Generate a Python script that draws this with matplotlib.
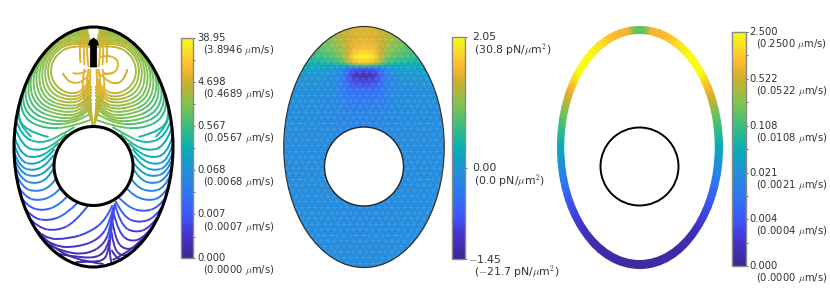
import numpy as np
import matplotlib
matplotlib.use('Agg')
import matplotlib.pyplot as plt
import matplotlib.collections as mcoll
import matplotlib.tri as mtri
from matplotlib.cm import ScalarMappable
from matplotlib.colors import LinearSegmentedColormap, LogNorm, FuncNorm
from matplotlib.patches import Ellipse, Circle, Polygon
from matplotlib.path import Path

plt.rcParams['font.family'] = 'DejaVu Sans'
plt.rcParams['mathtext.fontset'] = 'cm'

# colormap anchors
cmap_pos = [0.0, 0.1, 0.2, 0.3, 0.4, 0.5, 0.6, 0.7, 0.8, 0.87, 0.94, 1.0]
cmap_rgb = [(60, 40, 150), (68, 50, 200), (60, 90, 250), (45, 120, 240), (30, 145, 215),
            (5, 175, 180), (60, 190, 125), (130, 195, 80), (205, 175, 45), (254, 185, 50),
            (250, 220, 40), (249, 251, 20)]
parula = LinearSegmentedColormap.from_list(
    'parula_like', [(p, tuple(c / 255 for c in rgb)) for p, rgb in zip(cmap_pos, cmap_rgb)])

# --- panel 1: flow speed
flow_ticks = [0.001, 0.0081, 0.068, 0.567, 4.698, 38.95]
flow_top = ['0.000', '0.007', '0.068', '0.567', '4.698', '38.95']
flow_bot = ['(0.0000 $\\mu$m/s)', '(0.0007 $\\mu$m/s)', '(0.0068 $\\mu$m/s)',
            '(0.0567 $\\mu$m/s)', '(0.4689 $\\mu$m/s)', '(3.8946 $\\mu$m/s)']

speed_dist = [0, 25, 40, 55, 75, 100, 125, 150, 170, 185, 200]
speed_val = [7.9, 5.8, 2.8, 1.6, 0.57, 0.197, 0.055, 0.0083, 0.0035, 0.0021, 0.0012]
swimmer_xy = (0, 78)

# streamlines, pixels from the cell centre, y up
lobe_lines = [
    [(-3, 100), (-22, 102), (-38, 92), (-44, 76), (-38, 60), (-22, 52), (-8, 58), (-3, 70)],
    [(-3, 102), (-24, 105), (-41, 93), (-47, 76), (-41, 57), (-23, 49), (-8, 54), (-3, 67)],
    [(-3, 104), (-25, 107), (-43, 94), (-50, 75), (-44, 54), (-24, 46), (-8, 51), (-3, 64)],
    [(-3, 106), (-26, 109), (-45, 95), (-53, 74), (-47, 51), (-25, 43), (-8, 48), (-2, 61)],
    [(-3, 108), (-27, 111), (-47, 94), (-56, 73), (-50, 48), (-26, 40), (-8, 44), (-2, 58)],
    [(-4, 110), (-28, 113), (-49, 94), (-59, 72), (-53, 46), (-28, 37), (-9, 41), (-2, 55)],
    [(-4, 112), (-29, 114), (-50, 93), (-62, 70), (-56, 43), (-30, 34), (-10, 37), (-2, 52)],
    [(-5, 114), (-30, 115), (-52, 92), (-65, 68), (-59, 41), (-32, 31), (-11, 33), (-2, 48)],
    [(-6, 115), (-31, 115), (-53, 91), (-67, 65), (-62, 38), (-35, 28), (-12, 30), (-2, 44)],
    [(-7, 117), (-32, 115), (-55, 90), (-70, 62), (-65, 35), (-39, 25), (-14, 27), (-2, 40)],
    [(-9, 118), (-33, 115), (-57, 88), (-72, 58), (-68, 32), (-44, 22), (-18, 24), (-2, 34)],
    [(-11, 119), (-34, 114), (-58, 87), (-74, 52), (-70, 28), (-48, 18), (-22, 20), (-3, 27)],
    [(-13, 119), (-35, 113), (-60, 84), (-76, 45), (-75, 22), (-62, 10)],
    [(-15, 119), (-37, 112), (-62, 82), (-77, 38), (-70, 16), (-45, 10)],
]
axis_lines = [
    [(-5, 78), (-8, 60), (-5, 42), (-1, 24)],
    [(-9, 78), (-12, 62), (-8, 44), (-2, 26)],
    [(-3, 78), (-4, 60), (-3, 42), (-1, 22)],
    [(-5, 80), (-7, 95), (-6, 110), (-6, 118)],
    [(-9, 82), (-10, 95), (-9, 108), (-9, 118)],
    [(-13, 84), (-14, 95), (-13, 106), (-12, 118)],
]
side_lines = [
    [(-78, 28), (-72, 10), (-52, 3), (-32, 12), (-19, 20)],
    [(-78, 18), (-71, 0), (-54, -4), (-38, 3), (-27, 13)],
    [(-79, 10), (-73, -8), (-57, -11), (-43, -4), (-35, 4)],
    [(-79, 2), (-74, -14), (-60, -18), (-46, -11), (-39, -2)],
    [(-79, -6), (-74, -20), (-60, -24), (-47, -18), (-40, -8)],
    [(-79, -12), (-73, -26), (-59, -30), (-47, -25), (-40, -16)],
    [(-78, -20), (-72, -33), (-58, -37), (-46, -32), (-40, -22)],
    [(-77, -28), (-71, -41), (-57, -45), (-43, -40), (-38, -32)],
    [(-76, -38), (-69, -50), (-55, -54), (-40, -49), (-33, -41)],
]
left_low_lines = [
    [(-74, -48), (-66, -60), (-50, -64), (-34, -58), (-26, -49)],
    [(-71, -58), (-62, -71), (-44, -74), (-27, -67), (-16, -56)],
    [(-67, -68), (-56, -81), (-36, -84), (-18, -75), (-5, -58)],
    [(-62, -78), (-50, -92), (-25, -92), (-3, -85), (13, -72), (19, -58)],
    [(-55, -88), (-40, -100), (-15, -100), (6, -92), (16, -76), (20, -60)],
    [(-47, -97), (-28, -106), (-5, -107), (11, -97), (17, -80), (20, -62)],
    [(-35, -107), (-12, -111), (6, -110), (14, -100), (17, -85), (20, -64)],
    [(-18, -115), (0, -115), (11, -113), (15, -103), (17, -90)],
    [(-77, -30), (-70, -65), (-50, -92), (-22, -113), (10, -117)],
]
right_low_lines = [
    [(74, -48), (66, -60), (50, -65), (34, -60), (25, -50)],
    [(71, -56), (62, -71), (45, -76), (30, -70), (22, -54)],
    [(67, -66), (57, -81), (41, -86), (27, -78), (21, -56)],
    [(62, -76), (51, -91), (36, -95), (25, -85), (20, -66)],
    [(56, -86), (44, -100), (31, -103), (22, -93), (19, -75)],
    [(48, -96), (37, -107), (27, -109), (20, -100), (18, -85)],
    [(38, -106), (30, -112), (23, -112), (18, -103)],
    [(18, -116), (15, -103), (18, -83), (21, -58)],
    [(77, -30), (70, -65), (50, -92), (30, -108), (19, -113)],
]
spiral_lines = [
    [(-31, 74), (-27, 67), (-18, 63), (-9, 67), (-4, 72)],
    [(-21, 74), (-14, 72), (-7, 76)],
    [(6, 90), (14, 92), (24, 88), (25, 80), (20, 73), (10, 73)],
    [(4, 75), (14, 65), (25, 63), (32, 70), (34, 78)],
    [(10, 74), (17, 72), (21, 75)],
]
arrow_xy = [(-3.2, 80), (-3.2, 102), (-5, 102), (-3.8, 106), (0, 109), (3.8, 106), (5, 102), (3.2, 102), (3.2, 80)]

# --- panel 2: pressure
pres_ticks = [-1.45, 0.0, 2.05]
pres_top = ['$-$1.45', '0.00', '2.05']
pres_bot = ['($-$21.7 pN/$\\mu$m$^2$)', '(0.0 pN/$\\mu$m$^2$)', '(30.8 pN/$\\mu$m$^2$)']
pres_mid = 0.41  # where 0.00 sits along the bar

pres_x = [0, 10, 16, 22, 30, 42, 56, 84]
pres_y = [122, 108, 98, 90, 84, 81, 78, 72, 66, 58, 50, 38, 25, -10, -122]
pres = [
    [1.40, 1.40, 1.35, 1.30, 1.15, 0.95, 0.80, 0.70],
    [1.45, 1.42, 1.35, 1.25, 1.10, 0.90, 0.75, 0.60],
    [1.65, 1.55, 1.35, 1.15, 0.95, 0.80, 0.65, 0.50],
    [2.05, 1.85, 1.40, 1.00, 0.80, 0.65, 0.50, 0.40],
    [1.70, 1.50, 1.10, 0.70, 0.50, 0.42, 0.35, 0.28],
    [0.60, 0.50, 0.30, 0.20, 0.20, 0.25, 0.25, 0.20],
    [-0.80, -0.70, -0.45, -0.15, 0.05, 0.12, 0.14, 0.10],
    [-1.35, -1.15, -0.75, -0.30, -0.06, 0.02, 0.05, 0.02],
    [-1.00, -0.90, -0.65, -0.32, -0.12, -0.05, -0.02, -0.03],
    [-0.60, -0.58, -0.48, -0.28, -0.14, -0.10, -0.07, -0.06],
    [-0.42, -0.40, -0.36, -0.25, -0.15, -0.11, -0.09, -0.08],
    [-0.30, -0.29, -0.26, -0.20, -0.15, -0.12, -0.10, -0.10],
    [-0.22, -0.22, -0.20, -0.17, -0.14, -0.12, -0.11, -0.11],
    [-0.15, -0.15, -0.14, -0.13, -0.12, -0.12, -0.12, -0.12],
    [-0.12, -0.12, -0.12, -0.12, -0.12, -0.12, -0.12, -0.12],
]

# --- panel 3: wall speed
wall_ticks = [0.00098, 0.0047, 0.0225, 0.108, 0.522, 2.5]
wall_top = ['0.000', '0.004', '0.021', '0.108', '0.522', '2.500']
wall_bot = ['(0.0000 $\\mu$m/s)', '(0.0004 $\\mu$m/s)', '(0.0021 $\\mu$m/s)',
            '(0.0108 $\\mu$m/s)', '(0.0522 $\\mu$m/s)', '(0.2500 $\\mu$m/s)']
# angle round the ellipse from the top, degrees
wall_angle = [0, 4, 8, 18, 30, 38, 50, 60, 65, 73, 80, 90, 100, 110, 120, 135, 150, 180]
wall_speed = [0.161, 0.2, 0.774, 0.9, 1.69, 2.5, 2.5, 0.774, 0.524, 0.204, 0.109,
              0.042, 0.0194, 0.0088, 0.0040, 0.00183, 0.00134, 0.00115]

W, H = 830, 293
fig = plt.figure(figsize=(W / 100, H / 100), dpi=100)
FS = 7.2


def px_axes(x0, x1, y0, y1):
    return fig.add_axes([x0 / W, 1 - y1 / H, (x1 - x0) / W, (y1 - y0) / H])


def add_bar(box, norm, ticks, top, bot, minor=(), dx_top=3.0, dx_bot=7.3, fs=FS, dy_bot=-8.8):
    cax = px_axes(*box)
    cb = fig.colorbar(ScalarMappable(norm=norm, cmap=parula), cax=cax)
    cb.outline.set_edgecolor('#888888')
    cb.outline.set_linewidth(1.0)
    cax.minorticks_off()
    cax.set_yticks(ticks, labels=[])
    cax.set_yticks(list(minor), labels=[], minor=True)
    cax.tick_params(which='both', length=1.5, width=0.6, color='#555555', right=True)
    for i, (t, a, b) in enumerate(zip(ticks, top, bot)):
        dx = dx_top[i] if isinstance(dx_top, list) else dx_top
        cax.annotate(a, (1, norm(t)), xycoords='axes fraction', xytext=(dx, 0),
                     textcoords='offset points', va='center', ha='left', fontsize=fs, color='#333333')
        cax.annotate(b, (1, norm(t)), xycoords='axes fraction', xytext=(dx_bot, dy_bot),
                     textcoords='offset points', va='center', ha='left', fontsize=fs, color='#333333')
    return cax


# panel 1
ax1 = px_axes(8.5, 178.5, 22, 272)
ax1.set_xlim(-85, 85)
ax1.set_ylim(-125, 125)
ax1.axis('off')
flow_norm = LogNorm(vmin=flow_ticks[0], vmax=flow_ticks[-1])

mirrored = [[(-x, y) for x, y in line] for line in lobe_lines + axis_lines + side_lines]
all_lines = lobe_lines + axis_lines + side_lines + left_low_lines + right_low_lines + spiral_lines + mirrored
paths, colors = [], []
for line in all_lines:
    pts = np.array(line, dtype=float)
    mids = (pts[:-1] + pts[1:]) / 2
    for i in range(1, len(pts) - 1):
        start = pts[0] if i == 1 else mids[i - 1]
        end = pts[-1] if i == len(pts) - 2 else mids[i]
        paths.append(Path([start, pts[i], end], [Path.MOVETO, Path.CURVE3, Path.CURVE3]))
        d = np.hypot(pts[i, 0] - swimmer_xy[0], pts[i, 1] - swimmer_xy[1])
        colors.append(parula(flow_norm(np.interp(d, speed_dist, speed_val))))
stream = mcoll.PathCollection(paths, facecolors='none', edgecolors=colors, linewidths=1.4, zorder=2)
ax1.add_collection(stream, autolim=False)
stream.set_transform(ax1.transData)
wall1 = Ellipse((0, 0), 159, 240, fill=False, ec='black', lw=2.2, zorder=4)
ax1.add_patch(wall1)
stream.set_clip_path(wall1)
ax1.add_patch(Circle((0, -19), 39.5, fc='white', ec='black', lw=2.2, zorder=4))
ax1.add_patch(Polygon(arrow_xy, closed=True, fc='black', ec='black', lw=0.5, zorder=5))
add_bar((181, 193, 38, 258), flow_norm, flow_ticks, flow_top, flow_bot,
        minor=[0.0028, 0.0235, 0.196, 1.63, 13.5])

# panel 2
ax2 = px_axes(279, 449, 22, 272)
ax2.set_xlim(-85, 85)
ax2.set_ylim(-125, 125)
ax2.axis('off')
pres_norm = FuncNorm((lambda v: np.interp(v, pres_ticks, [0, pres_mid, 1]),
                      lambda f: np.interp(f, [0, pres_mid, 1], pres_ticks)),
                     vmin=pres_ticks[0], vmax=pres_ticks[-1])
px_half = np.array(pres_x, dtype=float)
grid_x = np.concatenate([-px_half[::-1], px_half[1:]])
grid_p = np.array(pres)
grid_p = np.hstack([grid_p[:, ::-1], grid_p[:, 1:]])
mesh = ax2.pcolormesh(grid_x, np.array(pres_y, dtype=float), grid_p, cmap=parula, norm=pres_norm,
                      shading='gouraud', zorder=1)
outline2 = Ellipse((0, 0), 160.5, 241, fill=False, ec='#333333', lw=0.9, zorder=4)
ax2.add_patch(outline2)
mesh.set_clip_path(outline2)
# faint triangular mesh on top of the field
lat_y = np.arange(-122, 123, 5.6)
lat_x, lat_yy = [], []
for k, yy in enumerate(lat_y):
    xs = np.arange(-84, 85, 6.4) + (3.2 if k % 2 else 0)
    lat_x.extend(xs)
    lat_yy.extend([yy] * len(xs))
tri = mtri.Triangulation(lat_x, lat_yy)
tlines = ax2.triplot(tri, color='white', lw=0.35, alpha=0.18, zorder=2)
for t in tlines:
    t.set_clip_path(outline2)
ax2.add_patch(Circle((0, -19.5), 39.5, fc='white', ec='#222222', lw=1.0, zorder=4))
add_bar((452, 465, 37, 259), pres_norm, pres_ticks, pres_top, pres_bot,
        dx_top=[2.2, 5.0, 5.0], dx_bot=6.5, fs=7.8, dy_bot=-9.4)

# panel 3
ax3 = px_axes(554.5, 724.5, 22, 272)
ax3.set_xlim(-85, 85)
ax3.set_ylim(-125, 125)
ax3.axis('off')
wall_norm = LogNorm(vmin=wall_ticks[0], vmax=wall_ticks[-1])
t = np.radians(np.concatenate([-np.array(wall_angle[::-1], dtype=float), np.array(wall_angle[1:], dtype=float)]))
sp = np.concatenate([np.array(wall_speed[::-1]), np.array(wall_speed[1:])])
ring_scale = np.array([0.85, 1.08])
rx = np.outer(ring_scale, 83 * np.sin(t))
ry = np.outer(ring_scale, 121.5 * np.cos(t))
rc = np.vstack([sp, sp])
ring = ax3.pcolormesh(rx, ry, rc, cmap=parula, norm=wall_norm, shading='gouraud', zorder=1)
outer3 = Ellipse((0, 0), 166, 243, fc='none', ec='none', zorder=1)
ax3.add_patch(outer3)
ring.set_clip_path(outer3)
ax3.add_patch(Ellipse((0, 0), 150.5, 226, fc='white', ec='none', zorder=2))
ax3.add_patch(Circle((0, -19.5), 39, fc='white', ec='black', lw=1.4, zorder=4))
add_bar((732, 746, 32, 266), wall_norm, wall_ticks, wall_top, wall_bot,
        minor=[0.00214, 0.0103, 0.049, 0.238, 1.14], dx_top=2.5)

fig.savefig('out.png', dpi=100)
